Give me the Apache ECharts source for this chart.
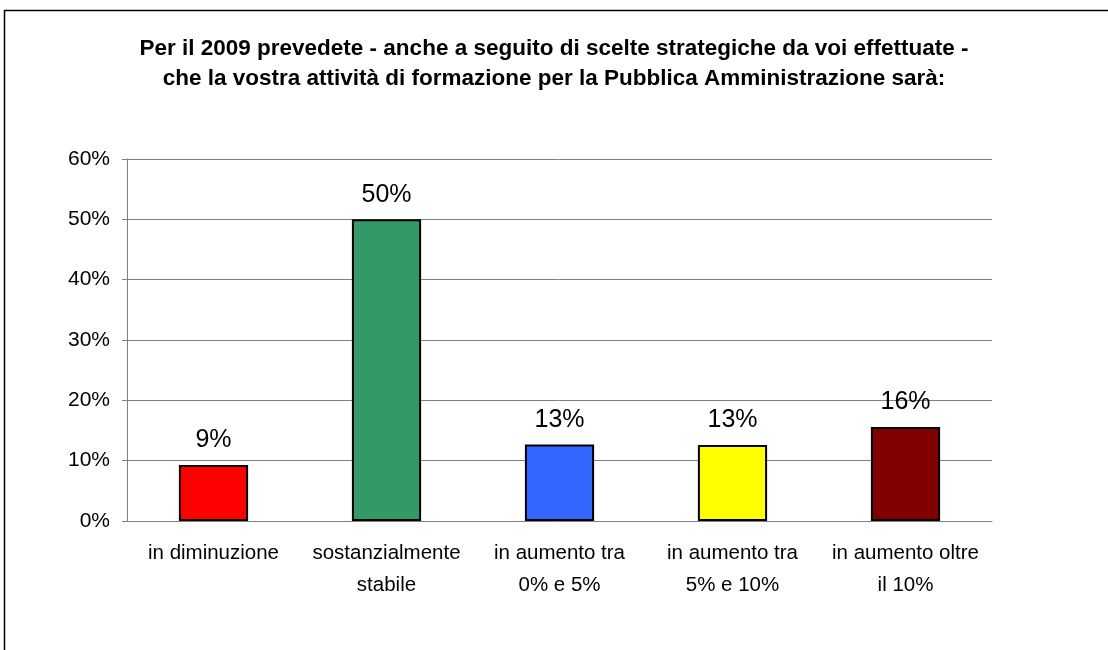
<!DOCTYPE html>
<html>
<head>
<meta charset="utf-8">
<script src="https://cdn.jsdelivr.net/npm/echarts@6/dist/echarts.min.js"></script>
<style>
  html, body { margin: 0; padding: 0; background: #fff; }
  #chart { width: 1108px; height: 650px; }
</style>
</head>
<body>
<div id="chart"></div>
<script>
// dati del grafico
var categorie = ['in diminuzione', 'sostanzialmente\nstabile', 'in aumento tra\n0% e 5%', 'in aumento tra\n5% e 10%', 'in aumento oltre\nil 10%'];
var valori = [9.3, 50, 12.7, 12.6, 15.6];
var colori = ['#FF0000', '#339966', '#3366FF', '#FFFF00', '#800000'];
var titolo = 'Per il 2009 prevedete - anche a seguito di scelte strategiche da voi effettuate -\nche la vostra attività di formazione per la Pubblica Amministrazione sarà:';

var myChart = echarts.init(document.getElementById('chart'));

var option = {
  animation: false,
  textStyle: { fontFamily: 'Liberation Sans, Arial, sans-serif' },
  title: {
    text: titolo,
    left: 'center',
    top: 29,
    textStyle: { fontSize: 22.5, fontWeight: 'bold', color: '#000', lineHeight: 30 }
  },
  // cornice esterna
  graphic: [{
    type: 'rect',
    shape: { x: 4.5, y: 10.5, width: 1200, height: 700 },
    style: { fill: 'none', stroke: '#000', lineWidth: 1.5 },
    silent: true
  }],
  grid: { left: 127, right: 116, top: 159, bottom: 129 },
  xAxis: {
    type: 'category',
    data: categorie,
    axisLine: { lineStyle: { color: '#808080', width: 1 } },
    axisTick: { length: 5, lineStyle: { color: '#808080' } },
    axisLabel: { color: '#000', fontSize: 20.5, lineHeight: 32, margin: 16, interval: 0 }
  },
  yAxis: {
    type: 'value',
    min: 0,
    max: 60,
    interval: 10,
    axisLine: { show: true, lineStyle: { color: '#808080', width: 1 } },
    axisTick: { show: true, length: 5, lineStyle: { color: '#808080' } },
    axisLabel: { color: '#000', fontSize: 21, formatter: '{value}%', margin: 17 },
    splitLine: { lineStyle: { color: '#808080', width: 1 } }
  },
  series: [{
    type: 'bar',
    barCategoryGap: '60%',
    data: valori.map(function (v, i) {
      return { value: v, itemStyle: { color: colori[i] } };
    }),
    itemStyle: { borderColor: '#000', borderWidth: 2 },
    label: {
      show: true,
      position: 'top',
      distance: 12,
      color: '#000',
      fontSize: 25,
      formatter: function (p) { return Math.round(p.value) + '%'; }
    }
  }]
};

myChart.setOption(option);
</script>
</body>
</html>
